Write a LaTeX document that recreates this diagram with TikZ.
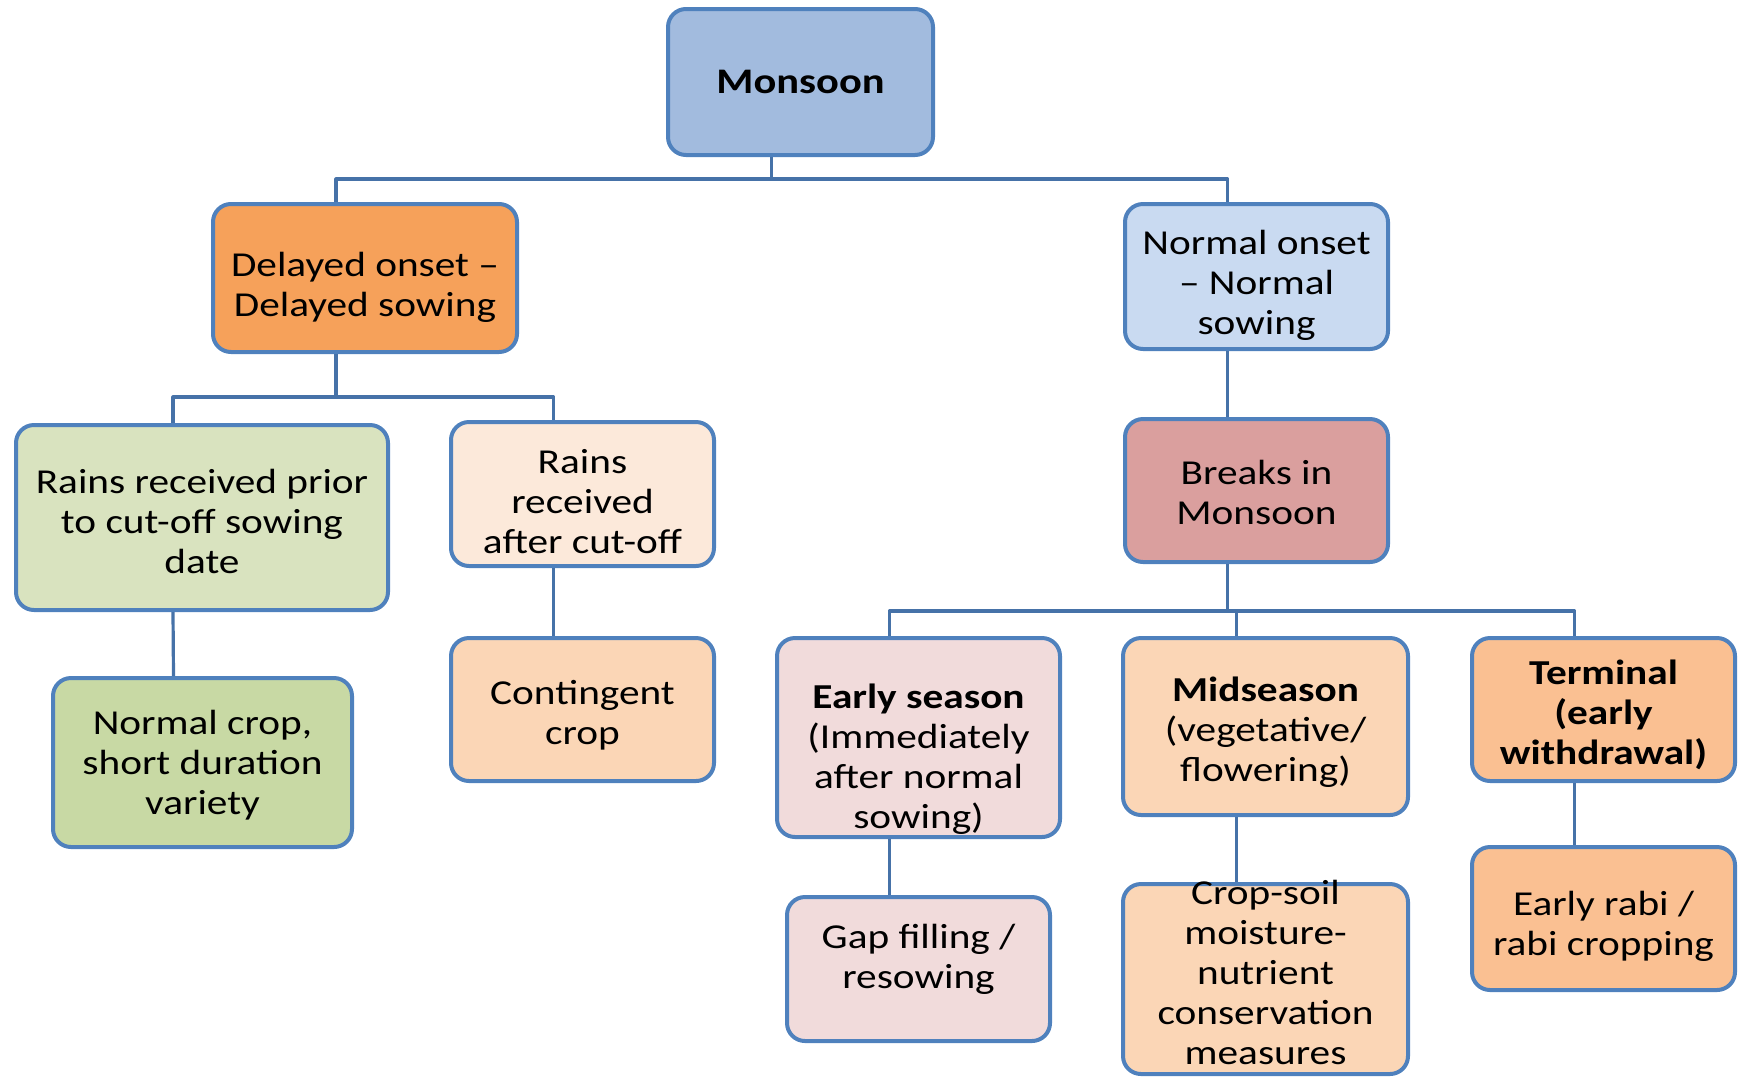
\documentclass[tikz,border=0pt]{standalone}
\usepackage{fontspec}
\setmainfont[FakeStretch=1.18]{Carlito}
\usetikzlibrary{calc}
\definecolor{edgeblue}{HTML}{4F81BD}
\definecolor{linkblue}{HTML}{4672A8}
\definecolor{cmonsoon}{HTML}{A2BBDE}
\definecolor{cdelay}{HTML}{F6A15A}
\definecolor{consetn}{HTML}{C9DAF1}
\definecolor{cbreak}{HTML}{DA9F9E}
\definecolor{cprior}{HTML}{D9E3BF}
\definecolor{cafter}{HTML}{FCE9DA}
\definecolor{cncrop}{HTML}{C8D9A4}
\definecolor{cpeach}{HTML}{FBD6B6}
\definecolor{cpink}{HTML}{F1DBDB}
\definecolor{cterm}{HTML}{FAC092}

\begin{document}
\begin{tikzpicture}[x=0.5pt, y=-0.5pt, line join=round,
	box/.style={draw=edgeblue, line width=2pt, rounded corners=9pt, inner sep=0pt},
	txt/.style={align=center, inner sep=0pt, font=\fontsize{17.5}{20}\selectfont},
	link/.style={draw=linkblue, line width=1.6pt}]
	\def\sh{-14.5pt}
	\useasboundingbox (0,0) rectangle (1744,1077);
	% boxes
	\node[box, fill=cmonsoon, minimum width=132.5pt, minimum height=73pt] (monsoon) at (800.5,82) {};
	\node[box, fill=cdelay, minimum width=152pt, minimum height=74pt] (delayed) at (365,278) {};
	\node[box, fill=consetn, minimum width=131.5pt, minimum height=72.5pt] (onset) at (1256.5,276.5) {};
	\node[box, fill=cprior, minimum width=186pt, minimum height=92.5pt] (prior) at (202,517.5) {};
	\node[box, fill=cafter, minimum width=131.5pt, minimum height=72pt] (after) at (582.5,494) {};
	\node[box, fill=cncrop, minimum width=149.5pt, minimum height=84.5pt] (ncrop) at (202.5,762.5) {};
	\node[box, fill=cpeach, minimum width=131.5pt, minimum height=71.5pt] (cont) at (582.5,709.5) {};
	\node[box, fill=cbreak, minimum width=131.5pt, minimum height=71.5pt] (breaks) at (1256.5,490.5) {};
	\node[box, fill=cpink, minimum width=141.5pt, minimum height=99.5pt] (early) at (918.5,737.5) {};
	\node[box, fill=cpeach, minimum width=142.5pt, minimum height=88.5pt] (mid) at (1265.5,726.5) {};
	\node[box, fill=cterm, minimum width=131.5pt, minimum height=71.5pt] (term) at (1603.5,709.5) {};
	\node[box, fill=cpink, minimum width=131.5pt, minimum height=72pt] (gap) at (918.5,969) {};
	\node[box, fill=cpeach, minimum width=142.5pt, minimum height=95pt] (soil) at (1265.5,979) {};
	\node[box, fill=cterm, minimum width=131.5pt, minimum height=71.5pt] (rabi) at (1603.5,918.5) {};
	% texts
	\node[txt, font=\fontsize{18}{20}\selectfont\bfseries] (monsoont) at (monsoon) {Monsoon};
	\node[txt] (delayedt) at ([yshift=-4.5pt]delayed) {Delayed onset --\\Delayed sowing};
	\node[txt] (onsett) at ([yshift=-4.2pt]onset) {Normal onset\\-- Normal\\sowing};
	\node[txt] (priort) at ([yshift=-2.2pt]prior) {Rains received prior\\to cut-off sowing\\date};
	\node[txt] (aftert) at ([yshift=-3.6pt]after) {Rains\\received\\after cut-off};
	\node[txt] (ncropt) at ([yshift=-1.1pt]ncrop) {Normal crop,\\short duration\\variety};
	\node[txt] (contt) at ([yshift=-3pt]cont) {Contingent\\crop};
	\node[txt] (breakst) at ([yshift=-1.1pt]breaks) {Breaks in\\Monsoon};
	\node[txt] (earlyt) at ([yshift=-11pt]early) {\textbf{Early season}\\(Immediately\\after normal\\sowing)};
	\node[txt] (midt) at ([yshift=-2.8pt]mid) {\textbf{Midseason}\\(vegetative/\\flowering)};
	\node[txt, font=\fontsize{17.5}{20}\selectfont\bfseries] (termt) at ([yshift=-2.5pt]term) {Terminal\\(early\\withdrawal)};
	\node[txt] (gapt) at ([yshift=4.6pt]gap) {Gap filling /\\resowing};
	\node[txt] (soilt) at ([yshift=3.3pt]soil) {Crop-soil\\moisture-\\nutrient\\conservation\\measures};
	\node[txt] (rabit) at ([yshift=-3.9pt]rabi) {Early rabi /\\rabi cropping};
	% buses
	\path ([xshift=\sh]monsoon.south) ++(0,22) coordinate (b1);
	\path ([xshift=\sh]delayed.south) ++(0,43) coordinate (b2);
	\path ([xshift=\sh]breaks.south) ++(0,47) coordinate (b3);
	\draw[link] ([xshift=\sh]monsoon.south) -- (b1);
	\draw[link] ([xshift=\sh]delayed.north) |- (b1) -| ([xshift=\sh]onset.north);
	\draw[link] ([xshift=\sh]delayed.south) -- (b2);
	\draw[link] ([xshift=\sh]prior.north) |- (b2) -| ([xshift=\sh]after.north);
	\draw[link] ([xshift=\sh]breaks.south) -- (b3);
	\draw[link] ([xshift=\sh]early.north) |- (b3) -| ([xshift=\sh]term.north);
	\draw[link] ([xshift=\sh]mid.north) |- (b3);
	% single links
	\draw[link] ([xshift=\sh]onset.south) -- ([xshift=\sh]breaks.north);
	\draw[link] ([xshift=\sh]prior.south) -- ([xshift=\sh]ncrop.north);
	\draw[link] ([xshift=\sh]after.south) -- ([xshift=\sh]cont.north);
	\draw[link] ([xshift=\sh]early.south) -- ([xshift=\sh]gap.north);
	\draw[link] ([xshift=\sh]mid.south) -- ([xshift=\sh]soil.north);
	\draw[link] ([xshift=\sh]term.south) -- ([xshift=\sh]rabi.north);
\end{tikzpicture}
\end{document}
